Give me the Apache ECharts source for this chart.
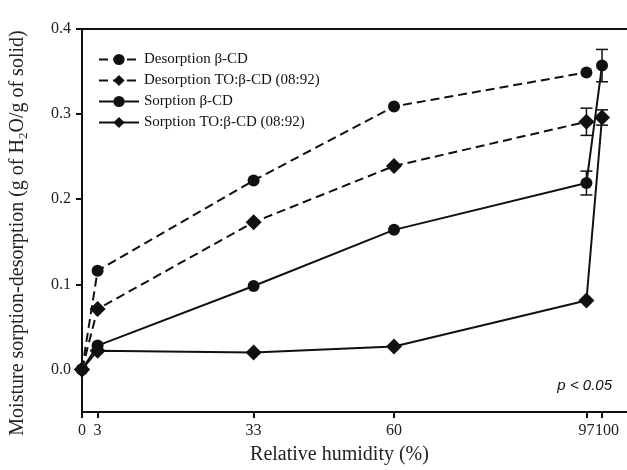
<!DOCTYPE html>
<html>
<head>
<meta charset="utf-8">
<title>Moisture sorption-desorption</title>
<script src="https://cdn.jsdelivr.net/npm/echarts@6/dist/echarts.min.js"></script>
<style>
    html, body { margin: 0; padding: 0; background: #fff; }
    #chart { width: 627px; height: 470px; }
</style>
</head>
<body>
<div id="chart"></div>
<script>
// relative humidity (%) steps
var humidity = [0, 3, 33, 60, 97, 100];
var xTicks = [0, 3, 33, 60, 97, 100];
var xLabels = [0, 3, 33, 60, 97];
var xLabelsEnd = [100];   // own axis so it is not hidden next to 97
var yTicks = [0, 0.1, 0.2, 0.3, 0.4];

// g of H2O / g of solid
var desorpBCD = [0, 0.116, 0.222, 0.309, 0.349];
var desorpTO = [0, 0.071, 0.173, 0.239, 0.291];
var sorpBCD = [0, 0.028, 0.098, 0.164, 0.219, 0.357];
var sorpTO = [0, 0.022, 0.020, 0.027, 0.081, 0.296];

// error bars
var errHumidity = [97, 97, 100, 100];
var errMean = [0.291, 0.219, 0.357, 0.296];
var errSd = [0.016, 0.014, 0.019, 0.009];

var names = ['Desorption β-CD', 'Desorption TO:β-CD (08:92)', 'Sorption β-CD', 'Sorption TO:β-CD (08:92)'];

function pairs(ys) {
    return ys.map(function (v, i) { return [humidity[i], v]; });
}

var serif = 'Liberation Serif';
var ink = '#111';
var xMax = 104.8;

function lineSeries(name, ys, symbol, dashed) {
    return {
        name: name,
        type: 'line',
        data: pairs(ys),
        symbol: symbol,
        symbolSize: symbol === 'circle' ? 12 : [16, 16],
        showAllSymbol: true,
        clip: false,
        itemStyle: { color: ink },
        lineStyle: { color: ink, width: 2, type: dashed ? [9, 5] : 'solid' },
        z: 3
    };
}

var chart = echarts.init(document.getElementById('chart'));

var option = {
    backgroundColor: '#fff',
    animation: false,
    grid: { left: 80, top: 29, right: 0, bottom: 56 },
    legend: {
        orient: 'vertical',
        left: 93,
        top: 47,
        itemWidth: 40,
        itemHeight: 14,
        itemGap: 6,
        textStyle: { fontFamily: serif, fontSize: 15, color: ink },
        data: names
    },
    xAxis: [{
        type: 'value',
        min: 0,
        max: xMax,
        name: 'Relative humidity (%)',
        nameLocation: 'middle',
        nameGap: 33,
        nameTextStyle: { fontFamily: serif, fontSize: 20, color: '#222', padding: [0, 30, 0, 0] },
        axisLine: { onZero: false, lineStyle: { color: ink, width: 2 } },
        axisTick: { show: true, length: 6, lineStyle: { width: 2, color: ink }, customValues: xTicks },
        axisLabel: {
            fontFamily: serif, fontSize: 16, color: '#222', margin: 11,
            customValues: xLabels, hideOverlap: false
        },
        splitLine: { show: false }
    }, {
        type: 'value',
        position: 'top',
        min: 0,
        max: xMax,
        axisLine: { show: true, onZero: false, lineStyle: { color: ink, width: 2 } },
        axisTick: { show: false },
        axisLabel: { show: false },
        splitLine: { show: false }
    }, {
        type: 'value',
        position: 'bottom',
        min: 0,
        max: xMax,
        axisLine: { show: false, onZero: false },
        axisTick: { show: false },
        axisLabel: {
            fontFamily: serif, fontSize: 16, color: '#222', margin: 11,
            customValues: xLabelsEnd, padding: [0, 0, 0, 10]
        },
        splitLine: { show: false }
    }],
    yAxis: {
        type: 'value',
        min: -0.05,
        max: 0.4,
        name: '{a|Moisture sorption-desorption (g of H}{s|2}{a|O/g of solid)}',
        nameLocation: 'middle',
        nameGap: 52,
        nameTextStyle: {
            padding: [0, 25, 0, 0],
            rich: {
                a: { fontFamily: serif, fontSize: 20, color: '#222', lineHeight: 24, verticalAlign: 'middle' },
                s: { fontFamily: serif, fontSize: 13, color: '#222', lineHeight: 24, verticalAlign: 'bottom', padding: [8, 0, 0, 0] }
            }
        },
        axisLine: { show: true, onZero: false, lineStyle: { color: ink, width: 2 } },
        axisTick: { show: true, length: 6, lineStyle: { width: 2, color: ink }, customValues: yTicks },
        axisLabel: {
            fontFamily: serif, fontSize: 16, color: '#222', margin: 11,
            customValues: yTicks,
            formatter: function (v) { return v.toFixed(1); }
        },
        splitLine: { show: false }
    },
    graphic: [{
        type: 'text',
        right: 15,
        top: 378,
        style: { text: 'p < 0.05', fontFamily: 'Liberation Sans', fontStyle: 'italic', fontSize: 15, fill: ink }
    }],
    series: [
        lineSeries(names[0], desorpBCD, 'circle', true),
        lineSeries(names[1], desorpTO, 'diamond', true),
        lineSeries(names[2], sorpBCD, 'circle', false),
        lineSeries(names[3], sorpTO, 'diamond', false),
        {
            type: 'custom',
            name: 'error',
            data: errHumidity.map(function (h, i) { return [h, errMean[i], errSd[i]]; }),
            renderItem: function (params, api) {
                var x = api.value(0), m = api.value(1), sd = api.value(2);
                var hi = api.coord([x, m + sd]);
                var lo = api.coord([x, m - sd]);
                var w = 6;
                var st = { stroke: ink, lineWidth: 1.5 };
                return {
                    type: 'group',
                    children: [
                        { type: 'line', shape: { x1: hi[0], y1: hi[1], x2: lo[0], y2: lo[1] }, style: st },
                        { type: 'line', shape: { x1: hi[0] - w, y1: hi[1], x2: hi[0] + w, y2: hi[1] }, style: st },
                        { type: 'line', shape: { x1: lo[0] - w, y1: lo[1], x2: lo[0] + w, y2: lo[1] }, style: st }
                    ]
                };
            },
            z: 2
        }
    ]
};

chart.setOption(option);
</script>
</body>
</html>
